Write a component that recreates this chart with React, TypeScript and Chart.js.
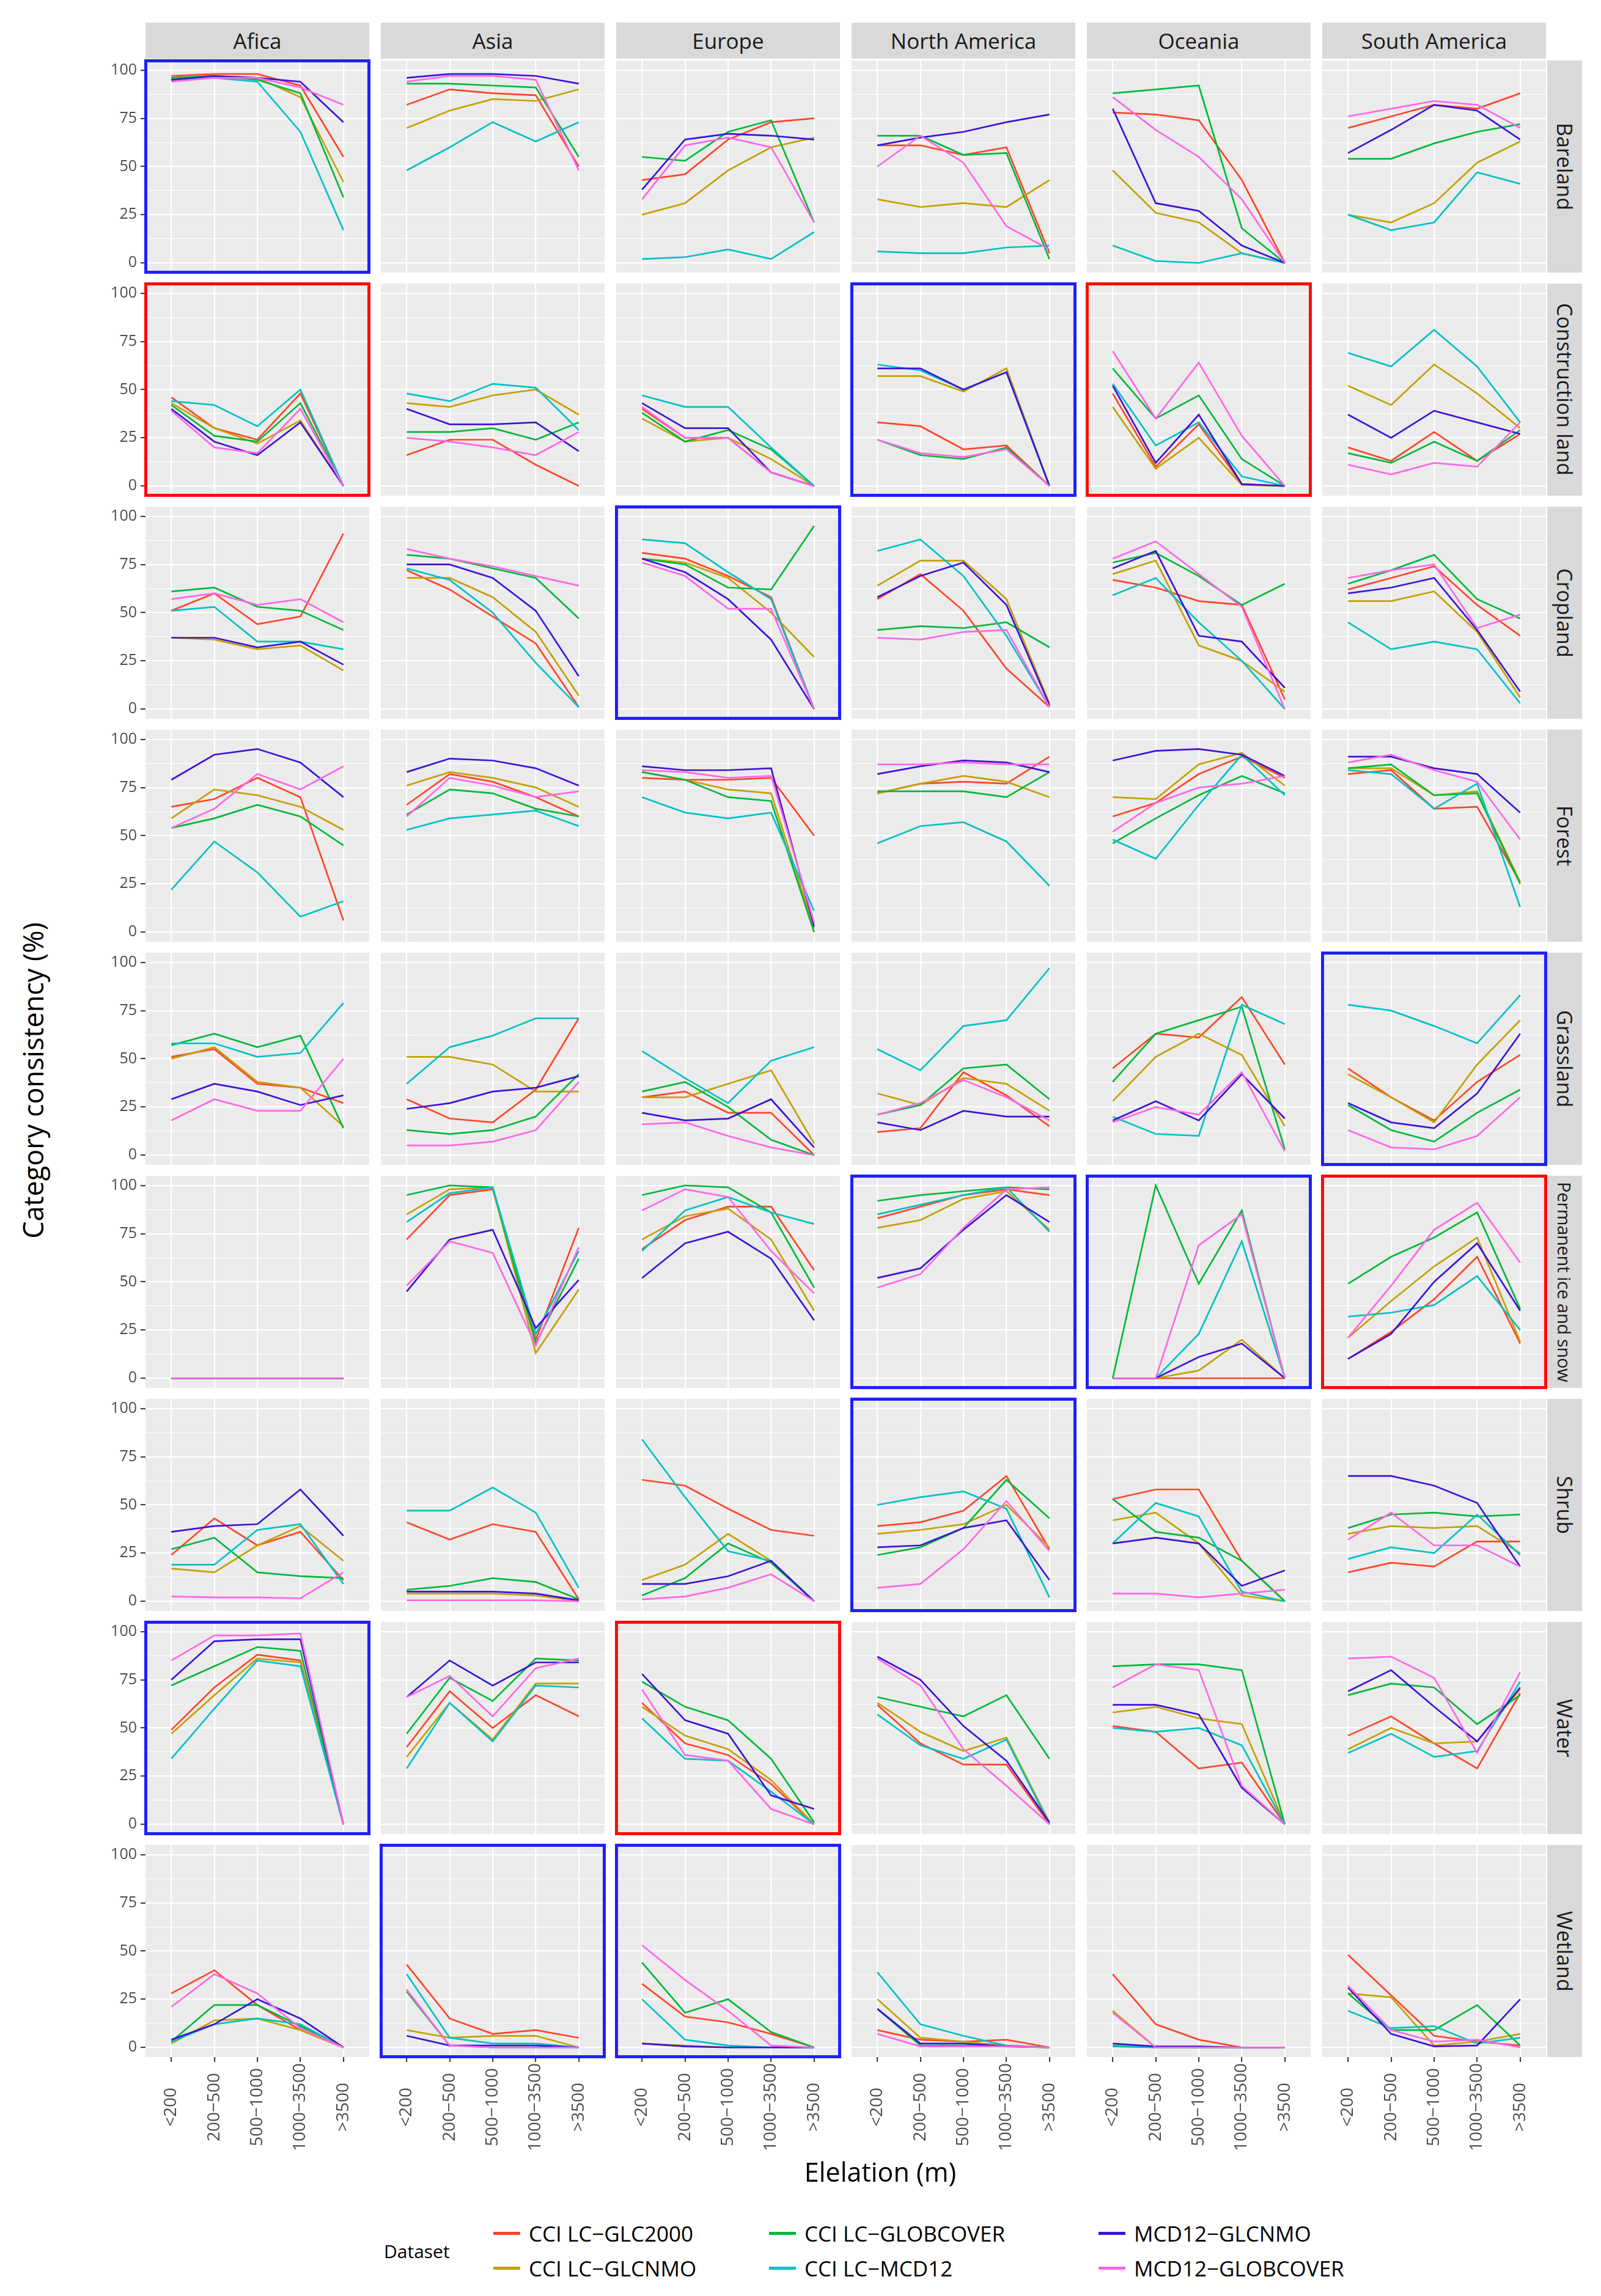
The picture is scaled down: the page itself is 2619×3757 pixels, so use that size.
import React, { useEffect, useRef } from 'react';
import { Chart, registerables } from 'chart.js';

Chart.register(...registerables);

// ---------- categories / labels ----------
const ELEVATIONS = ['<200', '200−500', '500−1000', '1000−3500', '>3500'];
const REGIONS = ['Afica', 'Asia', 'Europe', 'North America', 'Oceania', 'South America'];
const CLASSES = ['Bareland', 'Construction land', 'Cropland', 'Forest', 'Grassland', 'Permanent ice and snow', 'Shrub', 'Water', 'Wetland'];
const DATASETS = ['CCI LC−GLC2000', 'CCI LC−GLCNMO', 'CCI LC−GLOBCOVER', 'CCI LC−MCD12', 'MCD12−GLCNMO', 'MCD12−GLOBCOVER'];
const Y_TICKS = [0, 25, 50, 75, 100];
const Y_MINOR = [12.5, 37.5, 62.5, 87.5];

// ---------- values: [GLC2000, GLCNMO, GLOBCOVER, MCD12, MCD12-GLCNMO, MCD12-GLOBCOVER] ----------
// Bareland
const bareland_africa = [[97, 98, 98, 92, 55], [96, 97, 96, 86, 42], [96, 97, 95, 88, 34], [95, 96, 94, 68, 17], [95, 97, 96, 94, 73], [94, 96, 96, 91, 82]];
const bareland_asia = [[82, 90, 88, 87, 50], [70, 79, 85, 84, 90], [93, 93, 92, 91, 55], [48, 60, 73, 63, 73], [96, 98, 98, 97, 93], [94, 97, 97, 95, 48]];
const bareland_europe = [[43, 46, 64, 73, 75], [25, 31, 48, 60, 65], [55, 53, 68, 74, 21], [2, 3, 7, 2, 16], [38, 64, 67, 66, 64], [33, 61, 65, 60, 21]];
const bareland_namerica = [[61, 61, 56, 60, 5], [33, 29, 31, 29, 43], [66, 66, 56, 57, 2], [6, 5, 5, 8, 9], [61, 65, 68, 73, 77], [50, 66, 52, 19, 7]];
const bareland_oceania = [[78, 77, 74, 43, 0], [48, 26, 21, 5, 0], [88, 90, 92, 18, 0], [9, 1, 0, 5, 0], [80, 31, 27, 9, 0], [86, 69, 55, 33, 0]];
const bareland_samerica = [[70, 76, 82, 80, 88], [25, 21, 31, 52, 63], [54, 54, 62, 68, 72], [25, 17, 21, 47, 41], [57, 69, 82, 79, 64], [76, 80, 84, 82, 70]];
// Construction land
const construction_africa = [[46, 30, 24, 48, 0], [43, 30, 22, 34, 0], [42, 26, 23, 43, 0], [44, 42, 31, 50, 0], [40, 23, 16, 33, 0], [39, 20, 17, 40, 0]];
const construction_asia = [[16, 24, 24, 11, 0], [43, 41, 47, 50, 37], [28, 28, 30, 24, 33], [48, 44, 53, 51, 29], [40, 32, 32, 33, 18], [25, 23, 20, 16, 28]];
const construction_europe = [[40, 25, 25, 7, 0], [35, 23, 25, 14, 0], [38, 23, 29, 19, 0], [47, 41, 41, 20, 0], [43, 30, 30, 7, 0], [41, 25, 25, 7, 0]];
const construction_namerica = [[33, 31, 19, 21, 0], [57, 57, 49, 61, 0], [24, 16, 14, 20, 0], [63, 60, 50, 59, 0], [61, 61, 50, 59, 0], [24, 17, 15, 19, 0]];
const construction_oceania = [[48, 10, 32, 1, 0], [41, 9, 25, 0.5, 0], [61, 35, 47, 14, 0], [53, 21, 33, 5, 0], [52, 12, 37, 1, 0], [70, 35, 64, 26, 0]];
const construction_samerica = [[20, 13, 28, 13, 27], [52, 42, 63, 48, 30], [17, 12, 23, 13, 29], [69, 62, 81, 62, 33], [37, 25, 39, 33, 27], [11, 6, 12, 10, 33]];
// Cropland
const cropland_africa = [[51, 60, 44, 48, 91], [37, 36, 31, 33, 20], [61, 63, 53, 51, 41], [51, 53, 35, 35, 31], [37, 37, 32, 35, 23], [57, 60, 54, 57, 45]];
const cropland_asia = [[72, 62, 48, 34, 1], [68, 68, 58, 40, 7], [80, 78, 73, 68, 47], [73, 67, 50, 24, 1], [75, 75, 68, 51, 17], [83, 78, 74, 69, 64]];
const cropland_europe = [[81, 78, 69, 58, 0], [78, 76, 68, 50, 27], [78, 75, 63, 62, 95], [88, 86, 71, 57, 0], [78, 71, 57, 36, 0], [76, 69, 52, 52, 0]];
const cropland_namerica = [[57, 70, 51, 21, 1], [64, 77, 77, 57, 3], [41, 43, 42, 45, 32], [82, 88, 69, 38, 1], [58, 69, 76, 54, 2], [37, 36, 40, 41, 1]];
const cropland_oceania = [[67, 63, 56, 54, 5], [70, 77, 33, 25, 9], [76, 81, 69, 54, 65], [59, 68, 45, 25, 0], [73, 82, 38, 35, 11], [78, 87, 70, 53, 0]];
const cropland_samerica = [[62, 68, 74, 54, 38], [56, 56, 61, 40, 6], [65, 72, 80, 57, 47], [45, 31, 35, 31, 3], [60, 63, 68, 41, 9], [68, 72, 75, 42, 49]];
// Forest
const forest_africa = [[65, 69, 80, 70, 6], [59, 74, 71, 65, 53], [54, 59, 66, 60, 45], [22, 47, 31, 8, 16], [79, 92, 95, 88, 70], [54, 64, 82, 74, 86]];
const forest_asia = [[66, 82, 78, 70, 60], [76, 83, 80, 75, 65], [61, 74, 72, 64, 60], [53, 59, 61, 63, 55], [83, 90, 89, 85, 76], [60, 80, 76, 70, 73]];
const forest_europe = [[80, 79, 79, 80, 50], [83, 79, 74, 72, 2], [83, 79, 70, 68, 0], [70, 62, 59, 62, 11], [86, 84, 84, 85, 3], [84, 83, 80, 81, 5]];
const forest_namerica = [[72, 77, 78, 77, 91], [72, 77, 81, 78, 70], [73, 73, 73, 70, 83], [46, 55, 57, 47, 24], [82, 86, 89, 88, 83], [87, 87, 88, 87, 87]];
const forest_oceania = [[60, 67, 82, 91, 80], [70, 69, 87, 93, 76], [46, 59, 71, 81, 72], [48, 38, 66, 92, 71], [89, 94, 95, 92, 81], [52, 67, 75, 77, 81]];
const forest_samerica = [[82, 84, 64, 65, 26], [85, 85, 71, 73, 26], [85, 87, 71, 72, 25], [84, 82, 64, 77, 13], [91, 91, 85, 82, 62], [88, 92, 84, 78, 48]];
// Grassland
const grassland_africa = [[51, 55, 37, 35, 27], [50, 56, 38, 35, 15], [57, 63, 56, 62, 14], [58, 58, 51, 53, 79], [29, 37, 33, 26, 31], [18, 29, 23, 23, 50]];
const grassland_asia = [[29, 19, 17, 34, 71], [51, 51, 47, 33, 33], [13, 11, 13, 20, 42], [37, 56, 62, 71, 71], [24, 27, 33, 35, 41], [5, 5, 7, 13, 38]];
const grassland_europe = [[30, 33, 22, 22, 0], [30, 30, 37, 44, 6], [33, 38, 25, 8, 0], [54, 40, 27, 49, 56], [22, 18, 19, 29, 4], [16, 17, 10, 4, 0]];
const grassland_namerica = [[12, 14, 43, 31, 15], [32, 26, 40, 37, 23], [21, 26, 45, 47, 29], [55, 44, 67, 70, 97], [17, 13, 23, 20, 20], [21, 27, 39, 30, 18]];
const grassland_oceania = [[45, 63, 61, 82, 47], [28, 51, 63, 52, 15], [38, 63, 70, 77, 3], [20, 11, 10, 78, 68], [18, 28, 18, 42, 19], [17, 25, 21, 43, 2]];
const grassland_samerica = [[45, 30, 18, 38, 52], [42, 30, 17, 47, 70], [26, 13, 7, 22, 34], [78, 75, 67, 58, 83], [27, 17, 14, 32, 63], [13, 4, 3, 10, 30]];
// Permanent ice and snow
const ice_africa = [[0, 0, 0, 0, 0], [0, 0, 0, 0, 0], [0, 0, 0, 0, 0], [0, 0, 0, 0, 0], [0, 0, 0, 0, 0], [0, 0, 0, 0, 0]];
const ice_asia = [[72, 95, 98, 20, 78], [85, 98, 99, 13, 46], [95, 100, 99, 18, 62], [81, 96, 99, 23, 66], [45, 72, 77, 26, 51], [48, 71, 65, 17, 68]];
const ice_europe = [[67, 82, 89, 89, 56], [72, 84, 88, 72, 35], [95, 100, 99, 86, 47], [66, 87, 94, 86, 80], [52, 70, 76, 62, 30], [87, 98, 94, 66, 44]];
const ice_namerica = [[83, 89, 95, 98, 95], [78, 82, 93, 97, 77], [92, 95, 97, 99, 98], [85, 90, 95, 99, 76], [52, 57, 77, 95, 81], [47, 54, 78, 98, 99]];
const ice_oceania = [[0, 0, 0, 0, 0], [0, 0, 4, 20, 0], [0, 100, 49, 87, 0], [0, 0, 23, 71, 0], [0, 0, 11, 18, 0], [0, 0, 69, 85, 0]];
const ice_samerica = [[10, 24, 41, 63, 18], [21, 40, 58, 73, 19], [49, 63, 73, 86, 36], [32, 34, 38, 53, 25], [10, 23, 50, 70, 35], [21, 48, 77, 91, 60]];
// Shrub
const shrub_africa = [[24, 43, 29, 36, 11], [17, 15, 29, 39, 21], [27, 33, 15, 13, 12], [19, 19, 37, 40, 9], [36, 39, 40, 58, 34], [2.5, 2, 2, 1.5, 15]];
const shrub_asia = [[41, 32, 40, 36, 1], [4, 4, 4, 3, 0], [6, 8, 12, 10, 1], [47, 47, 59, 46, 7], [5, 5, 5, 4, 0.5], [0.5, 0.5, 0.5, 0.5, 0]];
const shrub_europe = [[63, 60, 48, 37, 34], [11, 19, 35, 21, 0], [3, 12, 30, 20, 0], [84, 54, 26, 21, 0], [9, 9, 13, 21, 0], [1, 2.5, 7, 14, 0]];
const shrub_namerica = [[39, 41, 47, 65, 27], [35, 37, 40, 50, 28], [24, 28, 38, 63, 43], [50, 54, 57, 48, 2], [28, 29, 38, 42, 11], [7, 9, 27, 52, 26]];
const shrub_oceania = [[53, 58, 58, 21, 0], [42, 46, 30, 3, 0], [53, 36, 33, 21, 0], [30, 51, 44, 5, 0], [30, 33, 30, 8, 16], [4, 4, 2, 4, 6]];
const shrub_samerica = [[15, 20, 18, 31, 31], [35, 39, 38, 39, 25], [38, 45, 46, 44, 45], [22, 28, 25, 45, 24], [65, 65, 60, 51, 18], [32, 46, 29, 29, 18]];
// Water
const water_africa = [[49, 71, 88, 85, 0], [47, 67, 86, 84, 0], [72, 82, 92, 90, 0], [34, 60, 85, 82, 0], [75, 95, 96, 96, 0], [85, 98, 98, 99, 0]];
const water_asia = [[40, 69, 50, 67, 56], [35, 63, 44, 73, 73], [47, 76, 64, 86, 85], [29, 63, 43, 72, 71], [66, 85, 72, 84, 84], [66, 77, 56, 81, 86]];
const water_europe = [[63, 42, 36, 21, 0], [61, 46, 39, 23, 0], [74, 61, 54, 34, 1], [55, 34, 33, 17, 0], [78, 54, 47, 15, 8], [70, 36, 33, 8, 0]];
const water_namerica = [[62, 42, 31, 31, 0], [63, 48, 38, 45, 1], [66, 61, 56, 67, 34], [57, 41, 34, 44, 0], [87, 75, 51, 33, 1], [86, 72, 39, 20, 0]];
const water_oceania = [[51, 48, 29, 32, 0], [58, 61, 55, 52, 0], [82, 83, 83, 80, 0], [50, 48, 50, 41, 0], [62, 62, 57, 19, 0], [71, 83, 80, 20, 0]];
const water_samerica = [[46, 56, 42, 29, 68], [39, 50, 42, 43, 70], [67, 73, 71, 52, 67], [37, 47, 35, 38, 74], [69, 80, 61, 43, 71], [86, 87, 76, 37, 79]];
// Wetland
const wetland_africa = [[28, 40, 22, 9, 0], [2, 14, 15, 9, 0], [3, 22, 22, 11, 0], [3, 12, 15, 12, 0], [4, 12, 25, 15, 0], [21, 38, 28, 10, 0]];
const wetland_asia = [[43, 15, 7, 9, 5], [9, 5, 6, 6, 0], [29, 1, 0, 0, 0], [38, 5, 2, 2, 0], [6, 1, 1, 1, 0], [30, 1, 0, 0, 0]];
const wetland_europe = [[33, 16, 13, 7, 0], [2, 1, 0, 0, 0], [44, 18, 25, 8, 0], [25, 4, 1, 0, 0], [2, 0.5, 0, 0, 0], [53, 35, 19, 1, 0]];
const wetland_namerica = [[9, 4, 3, 4, 0], [25, 5, 3, 1, 0], [20, 1, 1, 0.5, 0], [39, 12, 6, 1, 0], [20, 2, 2, 0.5, 0], [7, 0.5, 0.5, 0.5, 0]];
const wetland_oceania = [[38, 12, 4, 0, 0], [19, 0, 0, 0, 0], [0.5, 0, 0, 0, 0], [1, 0, 0, 0, 0], [2, 0.5, 0.5, 0, 0], [18, 0, 0, 0, 0]];
const wetland_samerica = [[48, 27, 6, 3, 1], [28, 26, 1, 3, 7], [28, 9, 9, 22, 1], [19, 10, 11, 2, 5], [31, 7, 0.5, 1, 25], [32, 9, 3, 4, 0]];

// highlighted panels: [row, col, kind]
const HIGHLIGHTS: [number, number, string][] = [
  [0, 0, 'blue'], [1, 0, 'red'], [1, 3, 'blue'], [1, 4, 'red'], [2, 2, 'blue'],
  [4, 5, 'blue'], [5, 3, 'blue'], [5, 4, 'blue'], [5, 5, 'red'], [6, 3, 'blue'],
  [7, 0, 'blue'], [7, 2, 'red'], [8, 1, 'blue'], [8, 2, 'blue'],
];

const PANEL_DATA: number[][][][] = [
  [bareland_africa, bareland_asia, bareland_europe, bareland_namerica, bareland_oceania, bareland_samerica],
  [construction_africa, construction_asia, construction_europe, construction_namerica, construction_oceania, construction_samerica],
  [cropland_africa, cropland_asia, cropland_europe, cropland_namerica, cropland_oceania, cropland_samerica],
  [forest_africa, forest_asia, forest_europe, forest_namerica, forest_oceania, forest_samerica],
  [grassland_africa, grassland_asia, grassland_europe, grassland_namerica, grassland_oceania, grassland_samerica],
  [ice_africa, ice_asia, ice_europe, ice_namerica, ice_oceania, ice_samerica],
  [shrub_africa, shrub_asia, shrub_europe, shrub_namerica, shrub_oceania, shrub_samerica],
  [water_africa, water_asia, water_europe, water_namerica, water_oceania, water_samerica],
  [wetland_africa, wetland_asia, wetland_europe, wetland_namerica, wetland_oceania, wetland_samerica],
];

// ---------- styling / layout ----------
const COLORS = ['#FF4528', '#C4A000', '#00B83A', '#00C1C6', '#3D12D8', '#FF66E6'];
const FRAME_COLORS: Record<string, string> = { blue: '#1F1FFF', red: '#FF0A0A' };
const FONT = '"Open Sans", "Noto Sans", sans-serif';
const PX0 = 238, PW = 366, PXSTEP = 385;
const PY0 = 99, PH = 347, PYSTEP = 365;
const YAXIS_W = 75, XAXIS_H = 170;
const TICK_FONT = 25;
const XTICK_FONT = 28;

const bgPlugin = {
  id: 'panelBg',
  beforeDraw(chart: any) {
    const { ctx, chartArea } = chart;
    ctx.save();
    ctx.fillStyle = '#EBEBEB';
    ctx.fillRect(chartArea.left, chartArea.top, chartArea.right - chartArea.left, chartArea.bottom - chartArea.top);
    ctx.restore();
  },
};

const xLabelPlugin = {
  id: 'xLabels',
  afterDraw(chart: any) {
    const { ctx, chartArea } = chart;
    const xs = chart.scales.x;
    ctx.save();
    ctx.font = `${XTICK_FONT}px ${FONT}`;
    ctx.fillStyle = '#4D4D4D';
    ctx.textAlign = 'center';
    ctx.textBaseline = 'middle';
    ELEVATIONS.forEach((lab, i) => {
      const px = xs.getPixelForValue(i);
      ctx.save();
      ctx.translate(px, chartArea.bottom + 82);
      ctx.rotate(-Math.PI / 2);
      ctx.fillText(lab, 0, 0);
      ctx.restore();
    });
    ctx.restore();
  },
};

function Panel({ row, col }: { row: number; col: number }) {
  const ref = useRef<HTMLCanvasElement>(null);
  const isLeft = col === 0;
  const isBottom = row === CLASSES.length - 1;
  const w = PW + (isLeft ? YAXIS_W : 0);
  const h = PH + (isBottom ? XAXIS_H : 0);
  const left = PX0 + col * PXSTEP - (isLeft ? YAXIS_W : 0);
  const top = PY0 + row * PYSTEP;

  useEffect(() => {
    const values = PANEL_DATA[row][col];
    const chart = new Chart(ref.current as HTMLCanvasElement, {
      type: 'line',
      data: {
        datasets: DATASETS.map((name, i) => ({
          label: name,
          data: values[i].map((v, j) => ({ x: j, y: v })),
          borderColor: COLORS[i],
          backgroundColor: COLORS[i],
          borderWidth: 2.7,
          pointRadius: 0,
          fill: false,
          tension: 0,
          order: DATASETS.length - 1 - i,
        })),
      },
      options: {
        animation: false,
        responsive: false,
        maintainAspectRatio: false,
        events: [],
        layout: { padding: 0 },
        plugins: { legend: { display: false }, tooltip: { enabled: false }, title: { display: false } },
        scales: {
          x: {
            type: 'linear',
            min: -0.6,
            max: 4.6,
            afterBuildTicks: (s: any) => { s.ticks = ELEVATIONS.map((_, i) => ({ value: i })); },
            afterFit: (s: any) => { s.height = isBottom ? XAXIS_H : 0; s.paddingLeft = 0; s.paddingRight = 0; },
            grid: { color: '#FFFFFF', lineWidth: 2.2, drawTicks: isBottom, tickLength: 8, tickColor: '#333333', tickWidth: 2 },
            border: { display: false },
            ticks: { display: false },
          },
          y: {
            type: 'linear',
            min: -5,
            max: 105,
            afterBuildTicks: (s: any) => {
              s.ticks = [...Y_TICKS, ...Y_MINOR].sort((a, b) => a - b).map((v) => ({ value: v }));
            },
            afterFit: (s: any) => { s.width = isLeft ? YAXIS_W : 0; s.paddingTop = 0; s.paddingBottom = 0; },
            grid: {
              color: '#FFFFFF',
              lineWidth: (c: any) => (c.tick && Y_TICKS.includes(c.tick.value) ? 2.2 : 1.1),
              drawTicks: isLeft,
              tickLength: 8,
              tickWidth: 2,
              tickColor: (c: any) => (c.tick && Y_TICKS.includes(c.tick.value) ? '#333333' : 'rgba(0,0,0,0)'),
            },
            border: { display: false },
            ticks: {
              display: isLeft,
              autoSkip: false,
              padding: 6,
              color: '#4D4D4D',
              font: { family: FONT, size: TICK_FONT },
              callback: (v: any) => (Y_TICKS.includes(Number(v)) ? String(v) : ''),
            },
          },
        },
      },
      plugins: isBottom ? [bgPlugin, xLabelPlugin] : [bgPlugin],
    } as any);
    return () => chart.destroy();
  }, [row, col]);

  return (
    <canvas
      ref={ref}
      width={w}
      height={h}
      style={{ position: 'absolute', left, top, width: w, height: h }}
    />
  );
}

export default function App() {
  const panels: JSX.Element[] = [];
  CLASSES.forEach((_, r) => REGIONS.forEach((__, c) => panels.push(<Panel key={`${r}-${c}`} row={r} col={c} />)));

  return (
    <div style={{ position: 'absolute', left: 0, top: 0, width: 2619, height: 3757, background: '#FFFFFF', fontFamily: FONT, overflow: 'hidden' }}>
      {/* column strips */}
      {REGIONS.map((name, c) => (
        <div key={name} style={{
          position: 'absolute', left: PX0 + c * PXSTEP, top: 37, width: PW, height: 59,
          background: '#D9D9D9', color: '#1A1A1A', fontSize: 35, display: 'flex',
          alignItems: 'center', justifyContent: 'center', whiteSpace: 'nowrap',
        }}>{name}</div>
      ))}
      {/* row strips */}
      {CLASSES.map((name, r) => (
        <div key={name} style={{
          position: 'absolute', left: 2531, top: PY0 + r * PYSTEP, width: 57, height: PH,
          background: '#D9D9D9', color: '#1A1A1A', display: 'flex',
          alignItems: 'center', justifyContent: 'center',
        }}>
          <span style={{ writingMode: 'vertical-rl', fontSize: name.length > 18 ? 29 : 34, whiteSpace: 'nowrap', letterSpacing: name.length > 18 ? -0.3 : 0 }}>{name}</span>
        </div>
      ))}
      {panels}
      {/* highlight frames */}
      {HIGHLIGHTS.map(([r, c, k], i) => (
        <div key={i} style={{
          position: 'absolute', left: PX0 + c * PXSTEP - 2, top: PY0 + r * PYSTEP - 2,
          width: PW + 4, height: PH + 4, boxSizing: 'border-box',
          border: `5px solid ${FRAME_COLORS[k]}`, pointerEvents: 'none',
        }} />
      ))}
      {/* axis titles */}
      <div style={{
        position: 'absolute', left: 53, top: 1768, transform: 'translate(-50%, -50%) rotate(-90deg)',
        fontSize: 45, color: '#000000', whiteSpace: 'nowrap',
      }}>Category consistency (%)</div>
      <div style={{
        position: 'absolute', left: 1440, top: 3553, transform: 'translate(-50%, -50%)',
        fontSize: 43, color: '#000000', whiteSpace: 'nowrap',
      }}>Elelation (m)</div>
      {/* legend */}
      <div style={{ position: 'absolute', left: 628, top: 3683, transform: 'translateY(-50%)', fontSize: 30, color: '#000000' }}>Dataset</div>
      {DATASETS.map((name, i) => {
        const kx = [807, 1258, 1797][Math.floor(i / 2)];
        const ky = [3654, 3711][i % 2];
        return (
          <React.Fragment key={name}>
            <div style={{ position: 'absolute', left: kx, top: ky - 2.5, width: 44, height: 5, background: COLORS[i] }} />
            <div style={{ position: 'absolute', left: kx + 58, top: ky, transform: 'translateY(-50%)', fontSize: 35, color: '#000000', whiteSpace: 'nowrap' }}>{name}</div>
          </React.Fragment>
        );
      })}
    </div>
  );
}
